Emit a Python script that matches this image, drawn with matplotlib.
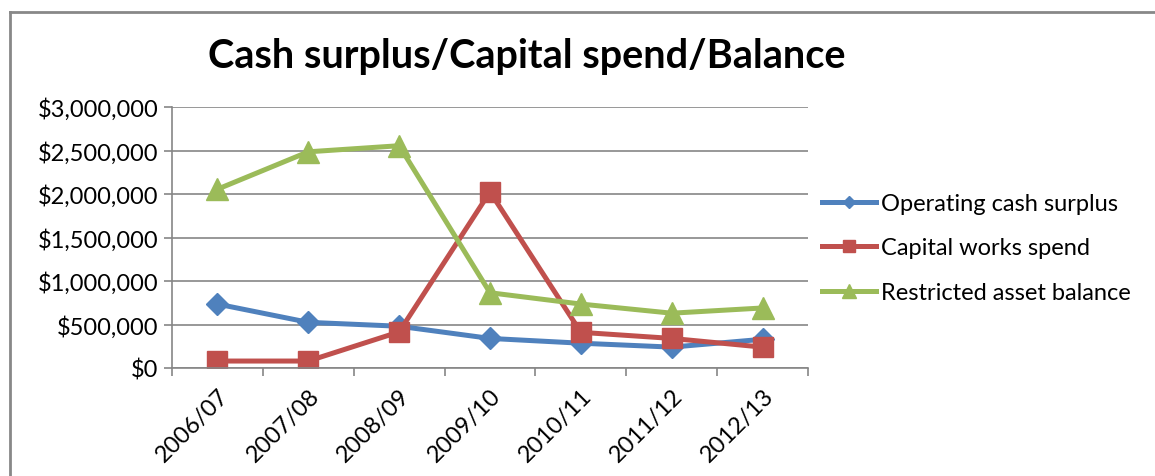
import numpy as np
import matplotlib.pyplot as plt
from matplotlib.lines import Line2D
from matplotlib.ticker import FuncFormatter, MultipleLocator

plt.rcParams['font.family'] = ['Lato', 'DejaVu Sans']

# data
years = ['2006/07', '2007/08', '2008/09', '2009/10', '2010/11', '2011/12', '2012/13']
operating_cash = [735000, 525000, 480000, 340000, 285000, 240000, 330000]
capital_works = [80000, 80000, 415000, 2025000, 410000, 340000, 240000]
restricted_asset = [2055000, 2485000, 2555000, 865000, 735000, 630000, 690000]

fig = plt.figure(figsize=(11.55, 4.77), dpi=100)
ax = fig.add_axes([172 / 1155, 1 - 369 / 477, 636 / 1155, 261 / 477])

x = np.arange(len(years))
ax.plot(x, operating_cash, color='#4F81BD', lw=3.6, marker='D', ms=11,
        mec='#4F81BD', label='Operating cash surplus')
ax.plot(x, capital_works, color='#C0504D', lw=3.6, marker='s', ms=15,
        mec='#C0504D', label='Capital works spend')
ax.plot(x, restricted_asset, color='#9BBB59', lw=3.6, marker='^', ms=16,
        mec='#9BBB59', label='Restricted asset balance')

ax.set_ylim(0, 3000000)
ax.set_xlim(-0.5, len(years) - 0.5)
ax.yaxis.set_major_locator(MultipleLocator(500000))
ax.yaxis.set_major_formatter(FuncFormatter(lambda v, p: '${:,.0f}'.format(v)))
ax.grid(axis='y', color='#868686', lw=1.2)
ax.set_axisbelow(True)

ax.set_xticks(x)
ax.set_xticklabels(years, rotation=45, ha='right', rotation_mode='anchor')
ax.set_xticks(np.arange(len(years) + 1) - 0.5, minor=True)
ax.tick_params(axis='x', which='major', length=0, pad=12, labelsize=17)
ax.tick_params(axis='x', which='minor', length=6, color='#868686', width=1.2)
ax.tick_params(axis='y', length=6, color='#868686', width=1.2, labelsize=17, pad=4)

for s in ['top', 'right']:
    ax.spines[s].set_visible(False)
for s in ['left', 'bottom']:
    ax.spines[s].set_color('#868686')
    ax.spines[s].set_linewidth(1.2)

fig.text(0.456, 0.882, 'Cash surplus/Capital spend/Balance', ha='center', va='center',
         fontsize=28.5, fontweight='bold')

ax.legend(loc='center left', bbox_to_anchor=(1.0, 0.46), frameon=False,
          fontsize=17, handlelength=2.3, handletextpad=0.2, labelspacing=1.0,
          borderaxespad=0.2, markerscale=0.6)

# outer chart border (only top and left edges visible)
fig.add_artist(Line2D([10 / 1155, 1.0], [1 - 13 / 477, 1 - 13 / 477],
                      color='#888888', lw=2))
fig.add_artist(Line2D([10 / 1155, 10 / 1155], [0, 1 - 13 / 477],
                      color='#888888', lw=2))

plt.savefig('out.png', dpi=100)
